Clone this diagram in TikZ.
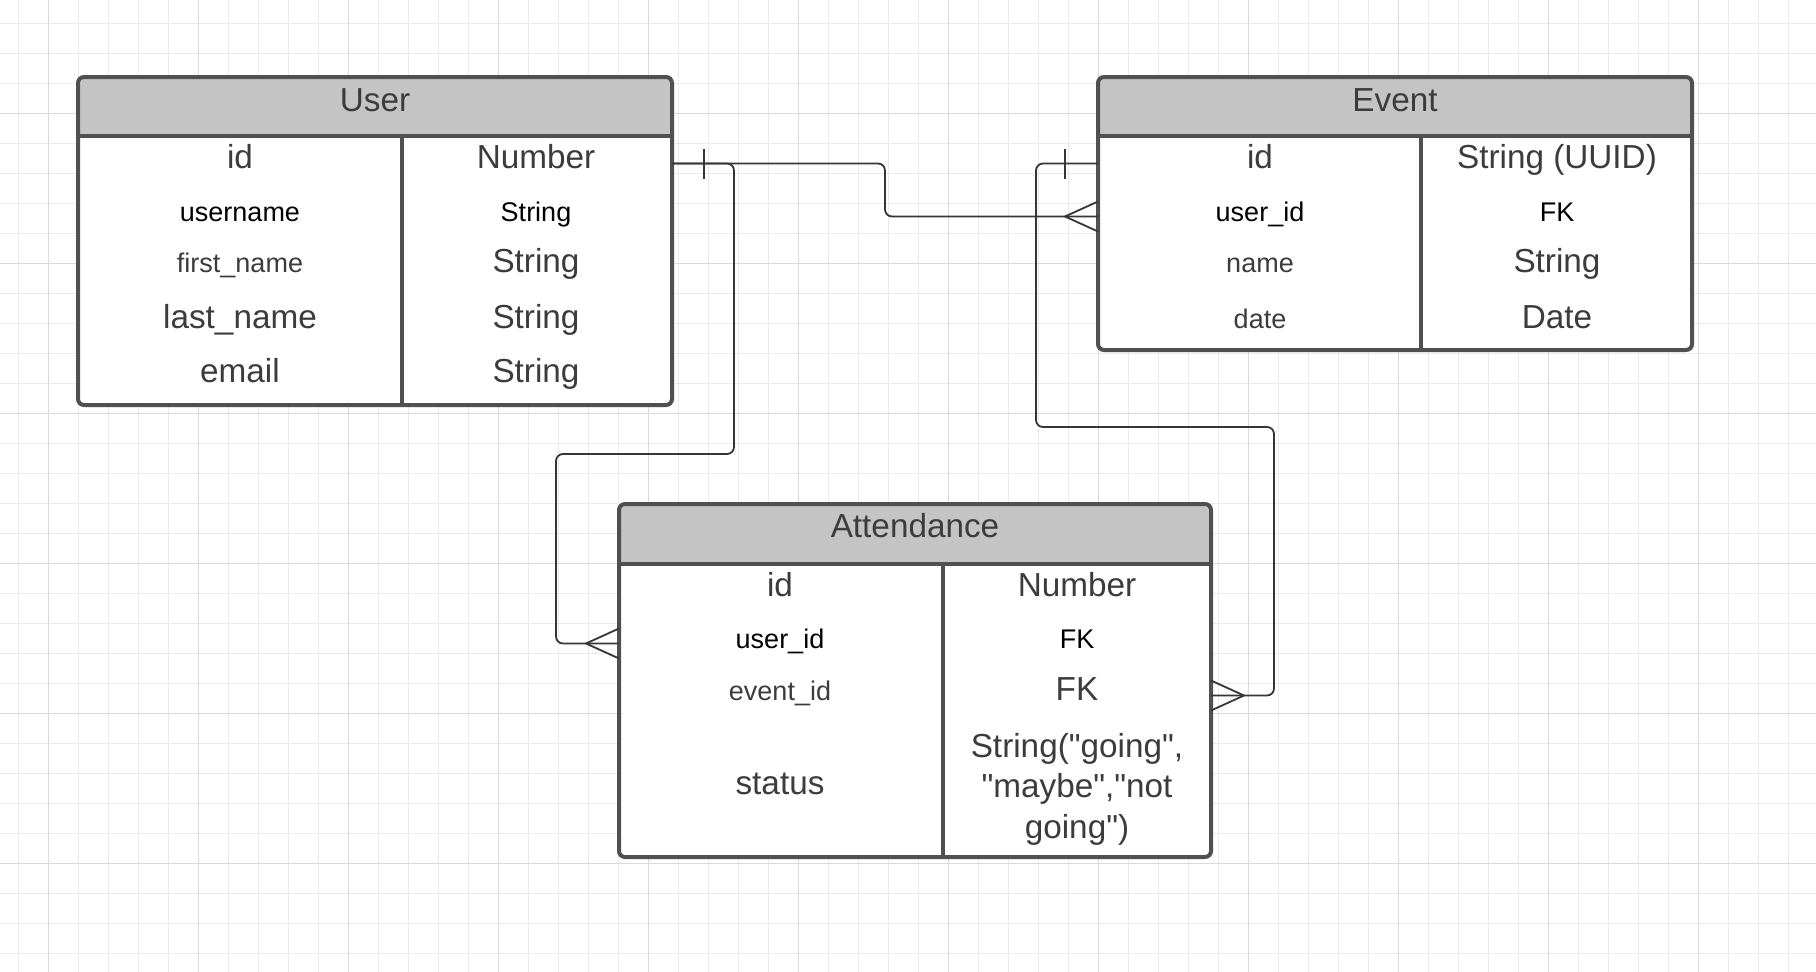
\documentclass[tikz,border=0pt]{standalone}
\usepackage{fontspec}
\setmainfont{Liberation Sans}
\newfontfamily\qfont{Liberation Sans}[Ligatures=TeXOff]
\usetikzlibrary{calc}
\pgfdeclarelayer{gridlayer}
\pgfdeclarelayer{filllayer}
\pgfsetlayers{gridlayer,filllayer,main}
\definecolor{gridminor}{HTML}{EBEBEB}
\definecolor{gridmajor}{HTML}{DADADA}
\definecolor{headfill}{HTML}{C4C4C4}
\definecolor{boxline}{HTML}{505050}
\definecolor{txtgrey}{HTML}{3C3C3C}
\definecolor{connline}{HTML}{363636}
\begin{document}
\begin{tikzpicture}[x=1pt,y=-1pt,
  tablebox/.style={draw=boxline, line width=4pt, rounded corners=6pt, outer sep=0pt, inner sep=0pt, rectangle},
  sepline/.style={draw=boxline, line width=4pt},
  bigtxt/.style={font=\fontsize{33.3}{40.5}\selectfont, text=txtgrey, inner sep=0pt, text height=1.26em, text depth=0.2em},
  smalltxt/.style={font=\fontsize{27}{32}\selectfont, text=txtgrey, inner sep=0pt, text height=1.26em, text depth=0.2em},
  darktxt/.style={text=black},
  conn/.style={draw=connline, line width=1.8pt, rounded corners=7pt},
  tickline/.style={draw=connline, line width=1.8pt},
]
\useasboundingbox (0,0) rectangle (1816,972);
\begin{pgfonlayer}{gridlayer}
  \fill[white] (0,0) rectangle (1816,972);
  \foreach \i in {0,...,60} { \draw[gridminor, line width=1.2pt] ({18.3+30*\i},0) -- ({18.3+30*\i},972); }
  \foreach \i in {0,...,32} { \draw[gridminor, line width=1.2pt] (0,{23.3+30*\i}) -- (1816,{23.3+30*\i}); }
  \foreach \i in {0,...,11} { \draw[gridmajor, line width=1.4pt] ({48.3+150*\i},0) -- ({48.3+150*\i},972); }
  \foreach \i in {0,...,5} { \draw[gridmajor, line width=1.4pt] (0,{113.3+150*\i}) -- (1816,{113.3+150*\i}); }
\end{pgfonlayer}

% boxes
\node[tablebox, minimum width=594pt, minimum height=328pt] (user) at (375,241) {};
\node[tablebox, minimum width=594pt, minimum height=273pt] (event) at (1395,213.5) {};
\node[tablebox, minimum width=592pt, minimum height=353pt] (att) at (915,680.5) {};

\coordinate (uhead) at (0,136);
\coordinate (ahead) at (0,564);
\coordinate (udiv) at (402,0);
\coordinate (ediv) at (1421,0);
\coordinate (adiv) at (943,0);

\begin{pgfonlayer}{filllayer}
  \foreach \b/\h in {user/uhead, event/uhead, att/ahead} {
    \fill[white, rounded corners=6pt] (\b.north west) rectangle (\b.south east);
    \begin{scope}
      \clip[rounded corners=6pt] (\b.north west) rectangle (\b.south east);
      \fill[headfill] (\b.north west) rectangle (\b.east |- \h);
    \end{scope}
  }
\end{pgfonlayer}

\draw[sepline] (user.west |- uhead) -- (user.east |- uhead);
\draw[sepline] (udiv |- uhead) -- (udiv |- user.south);
\draw[sepline] (event.west |- uhead) -- (event.east |- uhead);
\draw[sepline] (ediv |- uhead) -- (ediv |- event.south);
\draw[sepline] (att.west |- ahead) -- (att.east |- ahead);
\draw[sepline] (adiv |- ahead) -- (adiv |- att.south);

% User texts
\node[bigtxt] (uhd) at (375,106.5) {User};
\node[bigtxt] (u1a) at (240,163.5) {id};
\node[bigtxt] (u1b) at (536,163.5) {Number};
\node[smalltxt,darktxt] (u2a) at (240,216.5) {username};
\node[smalltxt,darktxt] (u2b) at (536,216.5) {String};
\node[smalltxt] (u3a) at (240,267.5) {first\_name};
\node[bigtxt] (u3b) at (536,267.5) {String};
\node[bigtxt] (u4a) at (240,323) {last\_name};
\node[bigtxt] (u4b) at (536,323) {String};
\node[bigtxt] (u5a) at (240,377.5) {email};
\node[bigtxt] (u5b) at (536,377.5) {String};

% Event texts
\node[bigtxt] (ehd) at (1395,106.5) {Event};
\node[bigtxt] (e1a) at (1260,163.5) {id};
\node[bigtxt] (e1b) at (1557,163.5) {String (UUID)};
\node[smalltxt,darktxt] (e2a) at (1260,216.5) {user\_id};
\node[smalltxt,darktxt] (e2b) at (1557,216.5) {FK};
\node[smalltxt] (e3a) at (1260,267.5) {name};
\node[bigtxt] (e3b) at (1557,267.5) {String};
\node[smalltxt] (e4a) at (1260,323) {date};
\node[bigtxt] (e4b) at (1557,323) {Date};

% Attendance texts
\node[bigtxt] (ahd) at (915,532.5) {Attendance};
\node[bigtxt] (a1a) at (780,591.5) {id};
\node[bigtxt] (a1b) at (1077,591.5) {Number};
\node[smalltxt,darktxt] (a2a) at (780,643.5) {user\_id};
\node[smalltxt,darktxt] (a2b) at (1077,643.5) {FK};
\node[smalltxt] (a3a) at (780,695.5) {event\_id};
\node[bigtxt] (a3b) at (1077,695.5) {FK};
\node[bigtxt] (a4a) at (780,789.5) {status};
\node[bigtxt, font=\qfont\fontsize{33.3}{40.5}\selectfont, text height=, text depth=, align=center] (a4b) at (1077,789) {String("going",\\"maybe","not\\going")};

% connectors
\coordinate (c1) at (885,190);
\coordinate (c2a) at (734,300);
\coordinate (c2b) at (556,454);
\coordinate (c3a) at (1036,300);
\coordinate (c3b) at (1274,427);

\draw[conn] (user.east |- u1a) -| (c1) |- (event.west |- e2a);
\draw[conn] (user.east |- u1a) -| (c2a) |- (c2b) |- (att.west |- a2a);
\draw[conn] (event.west |- e1a) -| (c3a) |- (c3b) |- (att.east |- a3a);

% one-marks
\draw[tickline] ($(user.east |- u1a)+(32,-15)$) -- ++(0,30);
\draw[tickline] ($(event.west |- e1a)+(-33,-15)$) -- ++(0,30);

% crow's feet
\draw[tickline] ($(event.west |- e2a)+(0,-15)$) -- ++(-33,15) -- ++(33,15);
\draw[tickline] ($(att.west |- a2a)+(0,-15)$) -- ++(-33,15) -- ++(33,15);
\draw[tickline] ($(att.east |- a3a)+(0,-15)$) -- ++(33,15) -- ++(-33,15);
\end{tikzpicture}
\end{document}
